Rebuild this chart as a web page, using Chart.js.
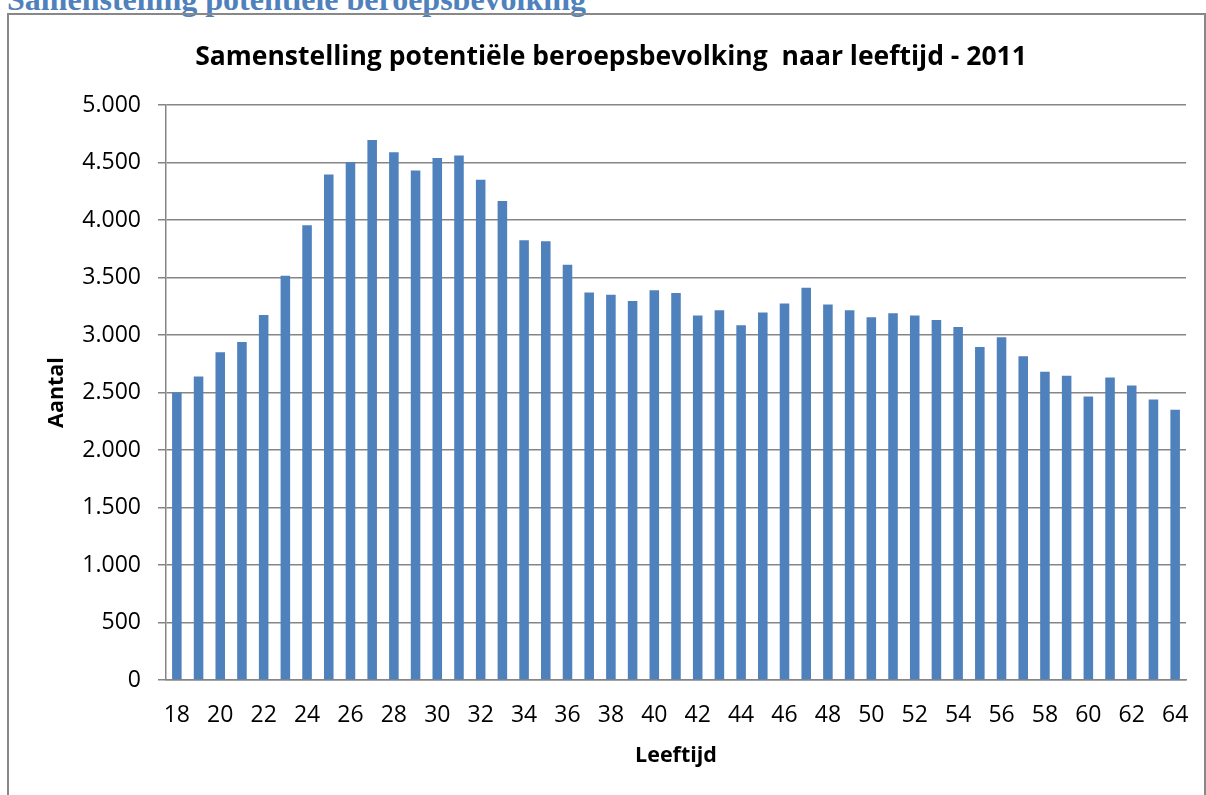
<!DOCTYPE html>
<html lang="nl">
<head>
<meta charset="utf-8">
<title>Samenstelling potentiële beroepsbevolking</title>
<script src="https://cdn.jsdelivr.net/npm/chart.js@4.4.1/dist/chart.umd.min.js"></script>
<style>
    body { margin: 0; background: #fff; overflow: hidden; }
    #kop {
        position: absolute; left: 7px; top: -17px; margin: 0;
        font: bold 32px "Liberation Serif", serif; line-height: 32px;
        color: #4f81bd; white-space: nowrap;
    }
    #kader {
        position: absolute; left: 7px; top: 13px; width: 1195px; height: 820px;
        border: 2px solid #888; border-bottom: none;
    }
    #grafiek { position: absolute; left: 0; top: 0; }
</style>
</head>
<body>
<h2 id="kop">Samenstelling potentiële beroepsbevolking</h2>
<div id="kader"></div>
<canvas id="grafiek" width="1206" height="795"></canvas>
<script>
// leeftijden 18 t/m 64
var leeftijden = [18, 19, 20, 21, 22, 23, 24, 25, 26, 27, 28, 29, 30, 31, 32, 33,
    34, 35, 36, 37, 38, 39, 40, 41, 42, 43, 44, 45, 46, 47, 48, 49, 50, 51, 52,
    53, 54, 55, 56, 57, 58, 59, 60, 61, 62, 63, 64];

// aantal personen per leeftijd
var aantallen = [2500, 2640, 2850, 2940, 3175, 3515, 3955, 4395, 4505, 4695,
    4590, 4430, 4540, 4560, 4350, 4165, 3825, 3815, 3610, 3370, 3350, 3295,
    3390, 3365, 3170, 3215, 3085, 3195, 3275, 3410, 3265, 3215, 3155, 3190,
    3170, 3130, 3070, 2895, 2980, 2815, 2680, 2645, 2465, 2630, 2560, 2440, 2350];

// y-as van 0 tot 5.000 in stappen van 500
var yMin = 0;
var yMax = 5000;
var yStap = 500;

var lijnKleur = '#858585';
var tekstFont = '"Open Sans", "Liberation Sans", sans-serif';

function duizendtal(v) {
    return String(v).replace(/\B(?=(\d{3})+(?!\d))/g, '.');
}

var ctx = document.getElementById('grafiek').getContext('2d');
new Chart(ctx, {
    type: 'bar',
    data: {
        labels: leeftijden,
        datasets: [{
            data: aantallen,
            backgroundColor: '#4f81bd',
            borderWidth: 0,
            barPercentage: 0.44,
            categoryPercentage: 1
        }]
    },
    options: {
        responsive: false,
        animation: false,
        events: [],
        layout: {
            padding: { left: 36, right: 20, top: 0, bottom: 0 }
        },
        plugins: {
            legend: { display: false },
            tooltip: { enabled: false },
            title: {
                display: true,
                text: 'Samenstelling potentiële beroepsbevolking  naar leeftijd - 2011',
                color: '#000',
                font: { family: tekstFont, size: 26.5, weight: 'bold' },
                padding: { top: 41.1, bottom: 32.1 }
            }
        },
        scales: {
            x: {
                // geen verticale lijnen; tickLength schuift alleen de labels omlaag
                grid: { display: false, drawTicks: true, tickLength: 22 },
                border: { display: true, color: lijnKleur, width: 1.5 },
                ticks: {
                    autoSkip: false,
                    maxRotation: 0,
                    color: '#000',
                    padding: 0,
                    font: { family: tekstFont, size: 23 },
                    callback: function(v, i) {
                        return i % 2 === 0 ? leeftijden[i] : '';
                    }
                },
                title: {
                    display: true,
                    text: 'Leeftijd',
                    color: '#000',
                    font: { family: tekstFont, size: 21.5, weight: 'bold' },
                    padding: { top: 0, bottom: 26 }
                },
                afterFit: function(scale) {
                    scale.height = 115;
                }
            },
            y: {
                min: yMin,
                max: yMax,
                grid: { color: lijnKleur, lineWidth: 1.5, tickLength: 8 },
                border: { display: true, color: lijnKleur, width: 1.5 },
                ticks: {
                    stepSize: yStap,
                    color: '#000',
                    padding: 17,
                    font: { family: tekstFont, size: 23 },
                    callback: function(v) { return duizendtal(v); }
                },
                title: {
                    display: true,
                    text: 'Aantal',
                    color: '#000',
                    font: { family: tekstFont, size: 21.5, weight: 'bold' },
                    padding: { top: 8, bottom: 0 }
                },
                afterFit: function(scale) {
                    scale.width = 130;
                }
            }
        }
    }
});
</script>
</body>
</html>
